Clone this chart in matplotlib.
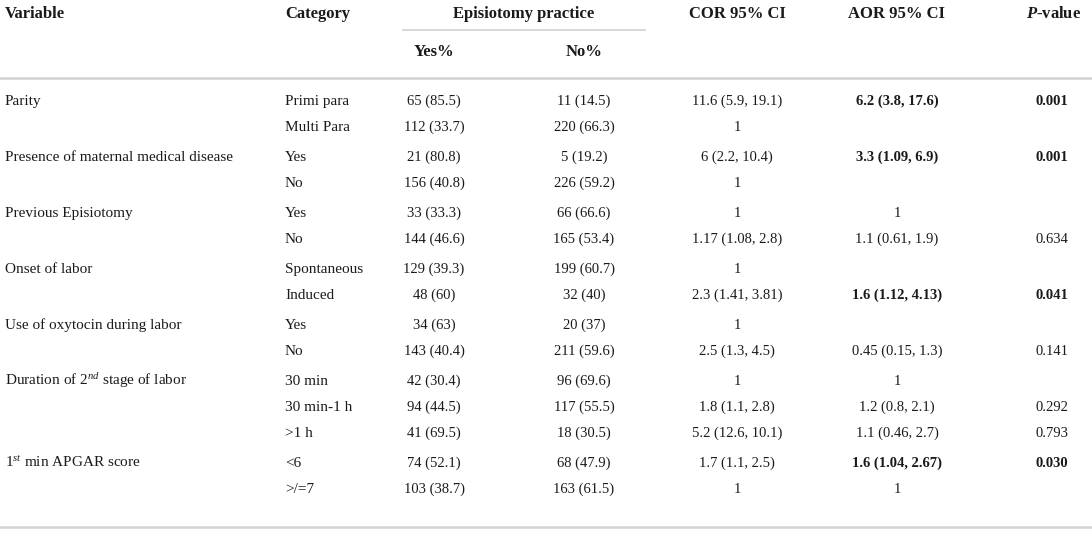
import matplotlib
matplotlib.use("Agg")
import matplotlib.pyplot as plt

plt.rcParams['font.family'] = ['Liberation Serif', 'DejaVu Serif']
plt.rcParams['mathtext.fontset'] = 'custom'
plt.rcParams['mathtext.rm'] = 'Liberation Serif'
plt.rcParams['mathtext.it'] = 'Liberation Serif:italic'
plt.rcParams['mathtext.bf'] = 'Liberation Serif:bold'
plt.rcParams['mathtext.bfit'] = 'Liberation Serif:italic:bold'
plt.rcParams['text.color'] = '#1a1a1a'

# table content
variables = ["Parity", "Presence of maternal medical disease", "Previous Episiotomy",
             "Onset of labor", "Use of oxytocin during labor",
             r"Duration of 2$^{nd}$ stage of labor", r"1$^{st}$ min APGAR score"]
group_sizes = [2, 2, 2, 2, 2, 3, 2]
categories = ["Primi para", "Multi Para", "Yes", "No", "Yes", "No", "Spontaneous", "Induced",
              "Yes", "No", "30 min", "30 min-1 h", ">1 h", "<6", ">/=7"]
yes_n = [65, 112, 21, 156, 33, 144, 129, 48, 34, 143, 42, 94, 41, 74, 103]
yes_pct = [85.5, 33.7, 80.8, 40.8, 33.3, 46.6, 39.3, 60, 63, 40.4, 30.4, 44.5, 69.5, 52.1, 38.7]
no_n = [11, 220, 5, 226, 66, 165, 199, 32, 20, 211, 96, 117, 18, 68, 163]
no_pct = [14.5, 66.3, 19.2, 59.2, 66.6, 53.4, 60.7, 40, 37, 59.6, 69.6, 55.5, 30.5, 47.9, 61.5]
cor = ["11.6 (5.9, 19.1)", "1", "6 (2.2, 10.4)", "1", "1", "1.17 (1.08, 2.8)", "1",
       "2.3 (1.41, 3.81)", "1", "2.5 (1.3, 4.5)", "1", "1.8 (1.1, 2.8)", "5.2 (12.6, 10.1)",
       "1.7 (1.1, 2.5)", "1"]
aor = ["6.2 (3.8, 17.6)", "", "3.3 (1.09, 6.9)", "", "1", "1.1 (0.61, 1.9)", "",
       "1.6 (1.12, 4.13)", "", "0.45 (0.15, 1.3)", "1", "1.2 (0.8, 2.1)", "1.1 (0.46, 2.7)",
       "1.6 (1.04, 2.67)", "1"]
pvals = ["0.001", "", "0.001", "", "", "0.634", "", "0.041", "", "0.141", "", "0.292",
         "0.793", "0.030", ""]
significant = [True, False, True, False, False, False, False, True, False, False, False,
               False, False, True, False]

W, H = 1092, 533
fig = plt.figure(figsize=(W / 100, H / 100), dpi=100)
ax = fig.add_axes([0, 0, 1, 1])
ax.set_xlim(0, W)
ax.set_ylim(H, 0)
ax.axis('off')

fs_head = 12
fs_txt = 11
fs_num = 10.5
col_var = 5
col_cat = 285
col_yes = 434
col_no = 584
col_cor = 737
col_aor = 897
col_p = 1052
line_col = '#d3d3d3'
base = 5  # baseline offset below row centre

# header
hy1, hy2 = 13, 51
for x, s, ha in [(col_var, "Variable", 'left'), (col_cat, "Category", 'left'),
                 (524, "Episiotomy practice", 'center'), (col_cor, "COR 95% CI", 'center'),
                 (col_aor, "AOR 95% CI", 'center'), (col_p + 2, r"$\mathbfit{P}$-value", 'center'),
                 (col_yes, "Yes%", 'center'), (col_no, "No%", 'center')]:
    yy = hy2 if s in ("Yes%", "No%") else hy1
    ax.text(x, yy + base, s, fontsize=fs_head, fontweight='bold', va='baseline', ha=ha)

ax.plot([403, 645], [30, 30], color=line_col, lw=1.3)
ax.plot([0, W], [78, 78], color=line_col, lw=1.8)

# body rows
y0, step_in, step_out = 100, 26, 30
row_y = []
y = y0
for g, n in enumerate(group_sizes):
    for k in range(n):
        row_y.append(y)
        y += step_in
    y += step_out - step_in

i = 0
for g, n in enumerate(group_sizes):
    ax.text(col_var, row_y[i] + base, variables[g], fontsize=fs_txt, va='baseline', ha='left')
    i += n

for r in range(len(categories)):
    yy = row_y[r] + base
    wt = 'bold' if significant[r] else 'normal'
    ax.text(col_cat, yy, categories[r], fontsize=fs_txt, va='baseline', ha='left')
    ax.text(col_yes, yy, f"{yes_n[r]} ({yes_pct[r]:g})", fontsize=fs_num,
            va='baseline', ha='center')
    ax.text(col_no, yy, f"{no_n[r]} ({no_pct[r]:g})", fontsize=fs_num,
            va='baseline', ha='center')
    ax.text(col_cor, yy, cor[r], fontsize=fs_num, va='baseline', ha='center')
    ax.text(col_aor, yy, aor[r], fontsize=fs_num, va='baseline', ha='center', fontweight=wt)
    ax.text(col_p, yy, pvals[r], fontsize=fs_num, va='baseline', ha='center', fontweight=wt)

ax.plot([0, W], [527, 527], color=line_col, lw=1.8)

fig.savefig("out.png", dpi=100)
